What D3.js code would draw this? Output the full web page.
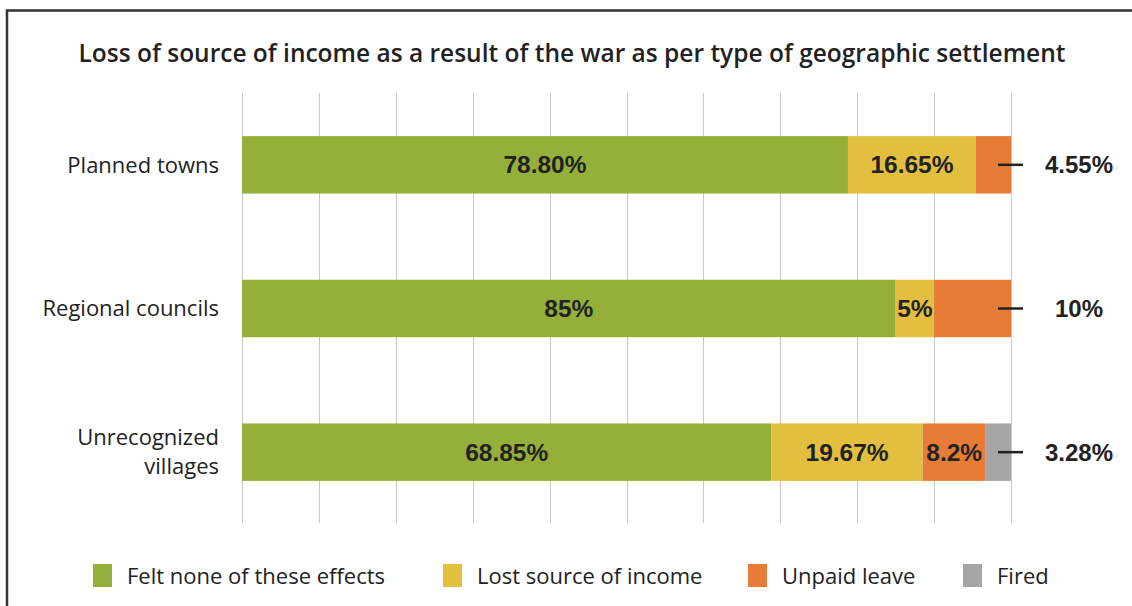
<!DOCTYPE html>
<html>
<head>
<meta charset="utf-8">
<script src="https://cdn.jsdelivr.net/npm/d3@7"></script>
<style>
  html, body { margin: 0; padding: 0; background: #fff; }
  svg { display: block; }
</style>
</head>
<body>
<svg id="chart" width="1132" height="606"></svg>
<script>
// ---- data ----
const title = "Loss of source of income as a result of the war as per type of geographic settlement";
const categories = ["Planned towns", "Regional councils", "Unrecognized villages"];
const categoryLines = [["Planned towns"], ["Regional councils"], ["Unrecognized", "villages"]];
const seriesNames = ["Felt none of these effects", "Lost source of income", "Unpaid leave", "Fired"];
const feltNone = [78.80, 85, 68.85];
const lostIncome = [16.65, 5, 19.67];
const unpaidLeave = [4.55, 10, 8.2];
const fired = [0, 0, 3.28];
const labelsFeltNone = ["78.80%", "85%", "68.85%"];
const labelsLostIncome = ["16.65%", "5%", "19.67%"];
const labelsUnpaid = ["4.55%", "10%", "8.2%"];
const labelsFired = ["", "", "3.28%"];
const outsideLabels = ["4.55%", "10%", "3.28%"];
const colors = ["#95b03a", "#e3bf3f", "#e67c36", "#a5a5a5"];
const xTicks = [0, 10, 20, 30, 40, 50, 60, 70, 80, 90, 100];

// ---- build ----
const svg = d3.select("#chart");
const textFont = "'Open Sans', 'Noto Sans', sans-serif";
const numFont = "'Liberation Sans', Arial, sans-serif";

// frame
svg.append("rect")
  .attr("x", 7).attr("y", 10.5)
  .attr("width", 1140).attr("height", 620)
  .attr("fill", "none").attr("stroke", "#333").attr("stroke-width", 2.5);

svg.append("text")
  .attr("x", 572).attr("y", 62)
  .attr("text-anchor", "middle")
  .attr("font-family", textFont).attr("font-weight", 600)
  .attr("font-size", 24.5).attr("fill", "#222")
  .text(title);

const x = d3.scaleLinear().domain([0, 100]).range([242, 1011]);
const y = d3.scaleBand().domain(categories).range([93, 524]).paddingInner(0.6).paddingOuter(0.3);

// gridlines
svg.append("g").selectAll("line").data(xTicks).join("line")
  .attr("x1", d => Math.round(x(d)) + 0.5).attr("x2", d => Math.round(x(d)) + 0.5)
  .attr("y1", 93).attr("y2", 523)
  .attr("stroke", "#c8c8c8").attr("stroke-width", 1);

// stack
const seriesVals = [feltNone, lostIncome, unpaidLeave, fired];
const seriesLabels = [labelsFeltNone, labelsLostIncome, labelsUnpaid, labelsFired];
const rows = categories.map((c, i) => {
  const r = { cat: c };
  seriesNames.forEach((s, k) => r[s] = seriesVals[k][i]);
  return r;
});
const stack = d3.stack().keys(seriesNames)(rows);

const gBars = svg.append("g");
stack.forEach((layer, k) => {
  gBars.append("g").selectAll("rect").data(layer).join("rect")
    .attr("x", d => x(d[0]))
    .attr("width", d => x(d[1]) - x(d[0]))
    .attr("y", d => y(d.data.cat))
    .attr("height", y.bandwidth())
    .attr("fill", colors[k]);
});

// in-bar labels (last visible segment gets an outside label instead)
const lastIdx = categories.map((c, i) => {
  let li = 0; seriesVals.forEach((v, k) => { if (v[i] > 0) li = k; }); return li;
});
stack.forEach((layer, k) => {
  gBars.append("g").selectAll("text").data(layer.map((d, i) => ({ d, i })).filter(o => k !== lastIdx[o.i] && o.d[1] > o.d[0]))
    .join("text")
    .attr("x", o => (x(o.d[0]) + x(o.d[1])) / 2)
    .attr("y", o => y(o.d.data.cat) + y.bandwidth() / 2)
    .attr("dy", "0.35em")
    .attr("text-anchor", "middle")
    .attr("font-family", numFont).attr("font-weight", "bold")
    .attr("font-size", 24.5).attr("fill", "#222")
    .text(o => seriesLabels[k][o.i]);
});

// leader lines + outside labels
const gOut = svg.append("g");
categories.forEach((c, i) => {
  const cy = y(c) + y.bandwidth() / 2;
  gOut.append("line")
    .attr("x1", x(100) - 13).attr("x2", x(100) + 12)
    .attr("y1", cy).attr("y2", cy)
    .attr("stroke", "#222").attr("stroke-width", 2.5);
  gOut.append("text")
    .attr("x", 1079).attr("y", cy).attr("dy", "0.35em")
    .attr("text-anchor", "middle")
    .attr("font-family", numFont).attr("font-weight", "bold")
    .attr("font-size", 24).attr("fill", "#222")
    .text(outsideLabels[i]);
});

// category labels
const gCat = svg.append("g");
categories.forEach((c, i) => {
  const lines = categoryLines[i];
  const cy = y(c) + y.bandwidth() / 2;
  const lh = 29;
  const t = gCat.append("text")
    .attr("text-anchor", "end")
    .attr("font-family", textFont).attr("font-size", 22).attr("fill", "#222");
  lines.forEach((ln, j) => {
    t.append("tspan").attr("x", 219)
      .attr("y", cy + (j - (lines.length - 1) / 2) * lh)
      .attr("dy", "0.35em").text(ln);
  });
});

// legend
const legendX = [93, 443, 748, 963];
const gLeg = svg.append("g");
seriesNames.forEach((s, k) => {
  gLeg.append("rect").attr("x", legendX[k]).attr("y", 564)
    .attr("width", 19).attr("height", 23).attr("fill", colors[k]);
  gLeg.append("text").attr("x", legendX[k] + 34).attr("y", 576).attr("dy", "0.35em")
    .attr("font-family", textFont).attr("font-size", 22).attr("fill", "#222")
    .text(s);
});
</script>
</body>
</html>
